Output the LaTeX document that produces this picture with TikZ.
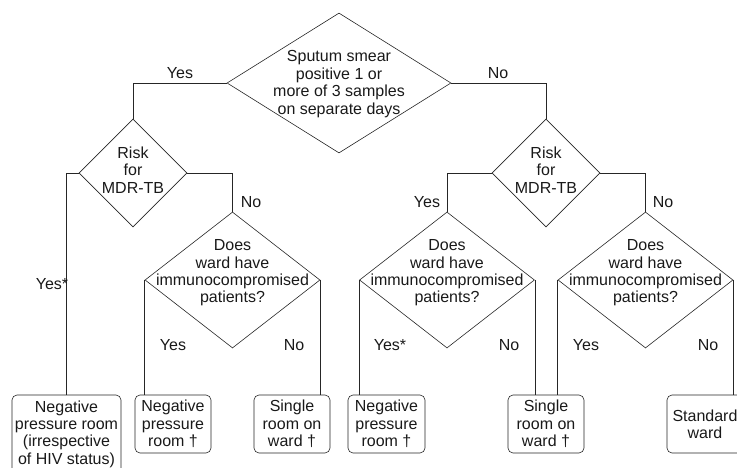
\documentclass[tikz,border=0pt]{standalone}
\usepackage{fontspec}
\setmainfont{Liberation Sans}
\usetikzlibrary{shapes.geometric}
\begin{document}
\begin{tikzpicture}[x=1pt,y=-1pt,
  dia/.style={draw=black!85, shape=diamond, inner sep=0pt, line width=0.6pt},
  txt/.style={align=center, font=\fontsize{16}{17.4}\selectfont, inner sep=0pt, text=black!90},
  lbl/.style={font=\fontsize{16}{17.4}\selectfont, inner sep=0pt, text=black!90},
  box/.style={draw=black!85, rounded corners=5pt, line width=0.6pt, align=center, inner sep=0pt,
    font=\fontsize{16}{17.4}\selectfont, text=black!90},
  conn/.style={draw=black!85, line width=0.6pt}]
\useasboundingbox (0,0) rectangle (737,468);
\clip (0,0) rectangle (737,468);

% diamonds
\node[dia, minimum width=224pt, minimum height=140pt] (top) at (339,83) {};
\node[txt] (toptxt) at (339,84) {Sputum smear\\positive 1 or\\more of 3 samples\\on separate days};

\node[dia, minimum width=108pt, minimum height=108pt] (risk1) at (133,173) {};
\node[txt] (risk1txt) at (133,170) {Risk\\for\\MDR-TB};
\node[dia, minimum width=108pt, minimum height=108pt] (risk2) at (546,173) {};
\node[txt] (risk2txt) at (546,170) {Risk\\for\\MDR-TB};

\node[dia, minimum width=175pt, minimum height=136pt] (does1) at (232.5,280) {};
\node[txt] (does1txt) at (232.5,273) {Does\\ward have\\immunocompromised\\patients?};
\node[dia, minimum width=175pt, minimum height=136pt] (does2) at (447,280) {};
\node[txt] (does2txt) at (447,273) {Does\\ward have\\immunocompromised\\patients?};
\node[dia, minimum width=175pt, minimum height=136pt] (does3) at (645.5,280) {};
\node[txt] (does3txt) at (645.5,273) {Does\\ward have\\immunocompromised\\patients?};

% boxes
\node[box, minimum width=109pt, minimum height=78pt] (b1) at (66.5,434) {Negative\\pressure room\\(irrespective\\of HIV status)};
\node[box, minimum width=76pt, minimum height=58pt] (b2) at (173,424) {Negative\\pressure\\room \textdagger};
\node[box, minimum width=76pt, minimum height=58pt] (b3) at (292,424) {Single\\room on\\ward \textdagger};
\node[box, minimum width=77pt, minimum height=58pt] (b4) at (386.5,424) {Negative\\pressure\\room \textdagger};
\node[box, minimum width=76pt, minimum height=58pt] (b5) at (546,424) {Single\\room on\\ward \textdagger};
\node[box, minimum width=76pt, minimum height=58pt] (b6) at (705,424) {Standard\\ward};

% connectors
\draw[conn] (top.west) -| (risk1.north);
\draw[conn] (top.east) -| (risk2.north);
\draw[conn] (risk1.west) -| (b1.north);
\draw[conn] (risk1.east) -| (does1.north);
\draw[conn] (risk2.west) -| (does2.north);
\draw[conn] (risk2.east) -| (does3.north);
\draw[conn] (does1.west) -- (does1.west |- b2.north);
\draw[conn] (does1.east) -- (does1.east |- b3.north);
\draw[conn] (does2.west) -- (does2.west |- b4.north);
\draw[conn] (does2.east) -- (does2.east |- b5.north);
\draw[conn] (does3.west) -- (does3.west |- b5.north);
\draw[conn] (does3.east) -- (does3.east |- b6.north);

% labels
\node[lbl] (l1) at (180,73) {Yes};
\node[lbl] (l2) at (498,73) {No};
\node[lbl] (l3) at (251,202) {No};
\node[lbl] (l4) at (52,284) {Yes*};
\node[lbl] (l5) at (173,345) {Yes};
\node[lbl] (l6) at (294,345) {No};
\node[lbl] (l7) at (427,202) {Yes};
\node[lbl] (l8) at (663,202) {No};
\node[lbl] (l9) at (390,345) {Yes*};
\node[lbl] (l10) at (509,345) {No};
\node[lbl] (l11) at (586,345) {Yes};
\node[lbl] (l12) at (708,345) {No};
\end{tikzpicture}
\end{document}
